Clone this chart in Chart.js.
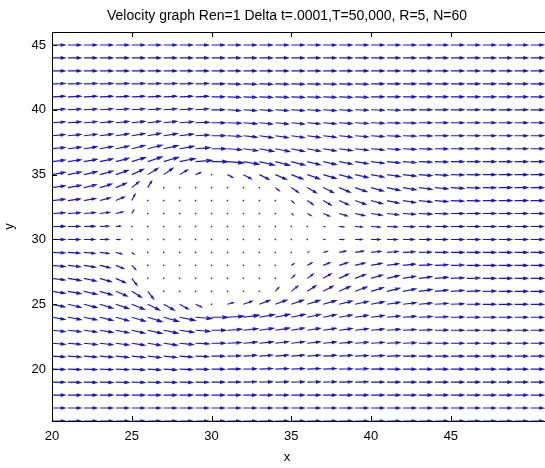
<!DOCTYPE html>
<html>
<head>
<meta charset="utf-8">
<script src="https://cdn.jsdelivr.net/npm/chart.js@4"></script>
<style>
html, body { margin: 0; padding: 0; background: #fff; }
canvas { display: block; }
</style>
</head>
<body>
<canvas id="chart" width="545" height="468"></canvas>
<script>
const titleText = "Velocity graph Ren=1 Delta t=.0001,T=50,000, R=5, N=60"
const xLabel = "x"
const yLabel = "y"

const xTickValues = [20, 25, 30, 35, 40, 45]
const yTickValues = [20, 25, 30, 35, 40, 45]

// grid columns (x) and rows (y, top to bottom)
const xValues = [20,21,22,23,24,25,26,27,28,29,30,31,32,33,34,35,36,37,38,39,40,41,42,43,44,45,46,47,48,49,50]
const yValues = [45,44,43,42,41,40,39,38,37,36,35,34,33,32,31,30,29,28,27,26,25,24,23,22,21,20,19,18,17,16]

// horizontal velocity, one row per y value
const uRows = [
    [1,1,1,1,1,1,1,1,1,1,1,1,1,1,1,1,1,1,1,1,1,1,1,1,1,1,1,1,1,1,1],
    [1,1,1,1,1,1,1,1,1,1,1,1,1,1,1,1,1,1,1,1,1,1,1,1,1,1,1,1,1,1,1],
    [1,1,1,1,1,1,1,1,1,1,1,1,1,1,1,1,1,1,1,1,1,1,1,1,1,1,1,1,1,1,1],
    [1,1,1,1,1,1,1,1,1,1,1,1,1,1,1,1,1,1,1,1,1,1,1,1,1,1,1,1,1,1,1],
    [1,1,1,1,1,1,1,1,1,1,1,1,1,1,1,1,1,1,1,1,1,1,1,1,1,1,1,1,1,1,1],
    [1,1,1,1,1,1,1,1,1,1,1,1,1,1,1,1,1,1,1,1,1,1,1,1,1,1,1,1,1,1,1],
    [1,1,1,1,1,1,1,1,1.05,1.05,1.05,1.05,1.05,1,1,1,1,1,1,1,1,1,1,1,1,1,1,1,1,1,1],
    [1,1,1,1,1,1,1,1.05,1.05,1.05,1.05,1.05,1.05,1.05,1,1,1,1,1,1,1,1,1,1,1,1,1,1,1,1,1],
    [1,1,1,1,1,1,1.1,1.1,1.1,1.1,1.1,1.1,1.1,1.1,1.1,1,1,1,1,1,1,1,1,1,1,1,1,1,1,1,1],
    [1,1,1,1,1,1.05,1.1,1.15,1.2,1.25,1.25,1.25,1.2,1.15,1.1,1.05,1,1,1,1,1,1,1,1,1,1,1,1,1,1,1],
    [1,1,1,1,0.95,0.9,0.8,0.7,0.6,0.4,0,0.4,0.6,0.75,0.85,0.9,0.95,1,1,1,1,1,1,1,1,1,1,1,1,1,1],
    [1,1,0.95,0.9,0.8,0.55,0.3,0,0,0,0,0,0,0,0.3,0.55,0.7,0.8,0.85,0.9,0.95,1,1,1,1,1,1,1,1,1,1],
    [1,0.95,0.9,0.8,0.65,0.25,0,0,0,0,0,0,0,0,0,0.2,0.45,0.6,0.72,0.82,0.88,0.93,0.96,1,1,1,1,1,1,1,1],
    [1,0.95,0.88,0.75,0.55,0.15,0,0,0,0,0,0,0,0,0,0.12,0.3,0.48,0.62,0.74,0.83,0.9,0.95,1,1,1,1,1,1,1,1],
    [1,0.93,0.85,0.68,0.35,0,0,0,0,0,0,0,0,0,0,0,0,0.12,0.35,0.55,0.7,0.8,0.88,0.93,0.97,1,1,1,1,1,1],
    [1,0.92,0.83,0.65,0.3,0,0,0,0,0,0,0,0,0,0,0,0,0.1,0.32,0.52,0.68,0.78,0.86,0.92,0.96,1,1,1,1,1,1],
    [1,0.93,0.85,0.7,0.45,0.18,0,0,0,0,0,0,0,0,0,0,0.1,0.3,0.5,0.65,0.76,0.85,0.91,0.95,0.98,1,1,1,1,1,1],
    [1,0.95,0.88,0.78,0.6,0.3,0,0,0,0,0,0,0,0,0,0.18,0.35,0.52,0.65,0.75,0.83,0.89,0.94,0.97,1,1,1,1,1,1,1],
    [1,1,0.95,0.88,0.75,0.4,0,0,0,0,0,0,0,0,0,0.25,0.45,0.6,0.72,0.8,0.87,0.92,0.96,0.98,1,1,1,1,1,1,1],
    [1,1,1,0.95,0.88,0.75,0.45,0,0,0,0,0,0,0,0.25,0.5,0.65,0.76,0.84,0.9,0.94,0.97,1,1,1,1,1,1,1,1,1],
    [1,1,1,1,1,0.98,0.92,0.82,0.68,0.45,0,0.45,0.68,0.8,0.88,0.93,0.97,1,1,1,1,1,1,1,1,1,1,1,1,1,1],
    [1,1,1,1,1,1.05,1.1,1.15,1.2,1.25,1.25,1.25,1.2,1.15,1.1,1.05,1,1,1,1,1,1,1,1,1,1,1,1,1,1,1],
    [1,1,1,1,1,1,1.1,1.1,1.1,1.1,1.1,1.1,1.1,1.1,1.1,1,1,1,1,1,1,1,1,1,1,1,1,1,1,1,1],
    [1,1,1,1,1,1,1,1.05,1.05,1.05,1.05,1.05,1.05,1.05,1,1,1,1,1,1,1,1,1,1,1,1,1,1,1,1,1],
    [1,1,1,1,1,1,1,1,1,1,1,1,1,1,1,1,1,1,1,1,1,1,1,1,1,1,1,1,1,1,1],
    [1,1,1,1,1,1,1,1,1,1,1,1,1,1,1,1,1,1,1,1,1,1,1,1,1,1,1,1,1,1,1],
    [1,1,1,1,1,1,1,1,1,1,1,1,1,1,1,1,1,1,1,1,1,1,1,1,1,1,1,1,1,1,1],
    [1,1,1,1,1,1,1,1,1,1,1,1,1,1,1,1,1,1,1,1,1,1,1,1,1,1,1,1,1,1,1],
    [1,1,1,1,1,1,1,1,1,1,1,1,1,1,1,1,1,1,1,1,1,1,1,1,1,1,1,1,1,1,1],
    [1,1,1,1,1,1,1,1,1,1,1,1,1,1,1,1,1,1,1,1,1,1,1,1,1,1,1,1,1,1,1]
]

// vertical velocity, one row per y value
const vRows = [
    [0,0,0,0,0,0,0,0,0,0,0,0,0,0,0,0,0,0,0,0,0,0,0,0,0,0,0,0,0,0,0],
    [0,0,0,0,0,0,0,0,0,0,0,0,0,0,0,0,0,0,0,0,0,0,0,0,0,0,0,0,0,0,0],
    [0,0,0,0,0,0,0,0,0,0,0,0,0,0,0,0,0,0,0,0,0,0,0,0,0,0,0,0,0,0,0],
    [0.03,0.03,0.03,0.03,0.03,0.03,0.03,0.03,0.03,0.03,0,-0.03,-0.03,-0.03,-0.03,-0.03,-0.03,-0.03,-0.03,-0.03,0,0,0,0,0,0,0,0,0,0,0],
    [0.05,0.05,0.05,0.05,0.05,0.05,0.05,0.05,0.05,0.05,0,-0.05,-0.05,-0.05,-0.05,-0.05,-0.05,-0.05,-0.05,-0.05,0,0,0,0,0,0,0,0,0,0,0],
    [0.06,0.06,0.06,0.08,0.08,0.08,0.08,0.08,0.08,0.08,0,-0.08,-0.08,-0.08,-0.08,-0.08,-0.08,-0.08,-0.08,-0.04,-0.04,-0.04,0,0,0,0,0,0,0,0,0],
    [0.08,0.09,0.1,0.11,0.12,0.13,0.14,0.13,0.1,0.05,0,-0.05,-0.1,-0.12,-0.12,-0.12,-0.11,-0.1,-0.08,-0.07,-0.05,-0.04,-0.03,0,0,0,0,0,0,0,0],
    [0.1,0.12,0.14,0.16,0.18,0.2,0.22,0.2,0.15,0.07,0,-0.07,-0.14,-0.18,-0.18,-0.17,-0.16,-0.14,-0.12,-0.1,-0.08,-0.06,-0.04,-0.02,0,0,0,0,0,0,0],
    [0.12,0.15,0.18,0.21,0.25,0.3,0.33,0.3,0.22,0.1,0,-0.1,-0.2,-0.26,-0.27,-0.26,-0.24,-0.21,-0.18,-0.15,-0.12,-0.09,-0.06,-0.04,-0.02,0,0,0,0,0,0],
    [0.15,0.18,0.22,0.27,0.32,0.4,0.45,0.42,0.3,0.12,0,-0.12,-0.25,-0.32,-0.34,-0.33,-0.3,-0.27,-0.23,-0.19,-0.15,-0.11,-0.08,-0.05,-0.03,0,0,0,0,0,0],
    [0.22,0.25,0.29,0.34,0.4,0.5,0.6,0.6,0.45,0.2,0,-0.25,-0.4,-0.45,-0.45,-0.43,-0.4,-0.36,-0.32,-0.28,-0.23,-0.18,-0.14,-0.1,-0.07,-0.04,-0.02,0,0,0,0],
    [0.18,0.22,0.27,0.33,0.42,0.55,0.6,0,0,0,0,0,0,0,-0.3,-0.45,-0.5,-0.48,-0.44,-0.39,-0.33,-0.27,-0.21,-0.16,-0.11,-0.07,-0.04,-0.02,0,0,0],
    [0.13,0.16,0.2,0.26,0.35,0.6,0,0,0,0,0,0,0,0,0,-0.2,-0.38,-0.42,-0.4,-0.36,-0.3,-0.25,-0.19,-0.14,-0.1,-0.06,-0.03,0,0,0,0],
    [0.07,0.08,0.1,0.12,0.16,0.3,0,0,0,0,0,0,0,0,0,-0.1,-0.2,-0.24,-0.23,-0.2,-0.16,-0.12,-0.08,-0.05,-0.03,0,0,0,0,0,0],
    [0.02,0.02,0.03,0.03,0.04,0,0,0,0,0,0,0,0,0,0,0,0,-0.02,-0.04,-0.05,-0.05,-0.04,-0.03,-0.02,0,0,0,0,0,0,0],
    [0,0,0,0,0,0,0,0,0,0,0,0,0,0,0,0,0,0,0,0,0,0,0,0,0,0,0,0,0,0,0],
    [-0.05,-0.06,-0.08,-0.1,-0.14,-0.15,0,0,0,0,0,0,0,0,0,0,0.05,0.1,0.13,0.13,0.11,0.09,0.06,0.04,0.02,0,0,0,0,0,0],
    [-0.11,-0.13,-0.17,-0.22,-0.3,-0.38,0,0,0,0,0,0,0,0,0,0.15,0.25,0.28,0.27,0.24,0.2,0.16,0.12,0.08,0.05,0.03,0,0,0,0,0],
    [-0.16,-0.2,-0.25,-0.32,-0.42,-0.65,0,0,0,0,0,0,0,0,0,0.28,0.4,0.43,0.41,0.37,0.32,0.26,0.2,0.15,0.1,0.06,0.03,0,0,0,0],
    [-0.18,-0.22,-0.28,-0.35,-0.45,-0.58,-0.7,0,0,0,0,0,0,0,0.35,0.5,0.52,0.5,0.46,0.41,0.35,0.29,0.23,0.17,0.12,0.08,0.05,0.03,0,0,0],
    [-0.25,-0.28,-0.32,-0.37,-0.42,-0.48,-0.55,-0.55,-0.45,-0.25,0,0.15,0.3,0.38,0.4,0.4,0.38,0.35,0.31,0.27,0.23,0.19,0.15,0.11,0.08,0.05,0.03,0,0,0,0],
    [-0.2,-0.22,-0.25,-0.3,-0.34,-0.38,-0.42,-0.4,-0.3,-0.12,0,0.1,0.2,0.26,0.28,0.28,0.27,0.25,0.22,0.19,0.16,0.12,0.09,0.06,0.04,0.02,0,0,0,0,0],
    [-0.12,-0.14,-0.17,-0.2,-0.24,-0.28,-0.3,-0.28,-0.2,-0.1,0,0.08,0.15,0.19,0.2,0.2,0.19,0.18,0.16,0.14,0.11,0.09,0.06,0.04,0.02,0,0,0,0,0,0],
    [-0.1,-0.11,-0.13,-0.15,-0.17,-0.19,-0.2,-0.19,-0.14,-0.07,0,0.05,0.1,0.13,0.14,0.14,0.13,0.12,0.11,0.09,0.07,0.05,0.04,0.02,0,0,0,0,0,0,0],
    [-0.07,-0.08,-0.09,-0.1,-0.11,-0.12,-0.13,-0.12,-0.09,-0.05,0,0.04,0.07,0.09,0.1,0.1,0.09,0.08,0.07,0.06,0.05,0.03,0.02,0,0,0,0,0,0,0,0],
    [-0.04,-0.05,-0.05,-0.06,-0.06,-0.07,-0.07,-0.07,-0.05,-0.03,0,0.02,0.04,0.05,0.06,0.06,0.05,0.05,0.04,0.03,0.02,0,0,0,0,0,0,0,0,0,0],
    [-0.02,-0.03,-0.03,-0.03,-0.04,-0.04,-0.04,-0.04,-0.03,-0.02,0,0.01,0.02,0.03,0.03,0.03,0.03,0.03,0.02,0.02,0.01,0,0,0,0,0,0,0,0,0,0],
    [0,0,0,0,0,0,0,0,0,0,0,0,0,0,0,0,0,0,0,0,0,0,0,0,0,0,0,0,0,0,0],
    [0,0,0,0,0,0,0,0,0,0,0,0,0,0,0,0,0,0,0,0,0,0,0,0,0,0,0,0,0,0,0],
    [0,0,0,0,0,0,0,0,0,0,0,0,0,0,0,0,0,0,0,0,0,0,0,0,0,0,0,0,0,0,0]
]

const arrowColor = "rgb(22, 22, 200)"
const dotColor = "#333344"
const arrowScale = 0.8
const headLength = 0.33
const headWidth = 0.3
const tickLength = 5
// matlab centres title and x label on the (cropped) axes box
const textCenterX = 287

let points = []
yValues.forEach((yv, j) => {
    xValues.forEach((xv, i) => {
        points.push({x: xv, y: yv, u: uRows[j][i], v: vRows[j][i]})
    })
})

const quiverPlugin = {
    id: "quiver",
    afterDatasetsDraw(chart) {
        const {ctx, chartArea: area, scales} = chart
        const meta = chart.getDatasetMeta(0)
        const raw = chart.data.datasets[0].data

        ctx.save()
        ctx.beginPath()
        ctx.rect(area.left, area.top, area.right - area.left, area.bottom - area.top)
        ctx.clip()
        ctx.strokeStyle = arrowColor
        ctx.lineWidth = 1.15

        meta.data.forEach((pt, i) => {
            let d = raw[i]
            if(d.u === 0 && d.v === 0) {
                ctx.fillStyle = dotColor
                ctx.fillRect(pt.x - 0.75, pt.y - 0.75, 1.5, 1.5)
                return
            }
            let tx = scales.x.getPixelForValue(d.x + arrowScale * d.u)
            let ty = scales.y.getPixelForValue(d.y + arrowScale * d.v)
            let dx = tx - pt.x
            let dy = ty - pt.y

            ctx.beginPath()
            ctx.moveTo(pt.x, pt.y)
            ctx.lineTo(tx, ty)
            ctx.moveTo(tx - headLength * (dx + headWidth * dy), ty - headLength * (dy - headWidth * dx))
            ctx.lineTo(tx, ty)
            ctx.lineTo(tx - headLength * (dx - headWidth * dy), ty - headLength * (dy + headWidth * dx))
            ctx.stroke()
        })
        ctx.restore()
    }
}

// top border, inward tick marks, title and x label
const framePlugin = {
    id: "frame",
    afterDraw(chart) {
        const {ctx, chartArea: a, scales: {x, y}} = chart
        ctx.save()
        ctx.strokeStyle = "#000"
        ctx.lineWidth = 1
        ctx.beginPath()
        ctx.moveTo(a.left, Math.round(a.top) + 0.5)
        ctx.lineTo(a.right, Math.round(a.top) + 0.5)
        for(let t of x.ticks) {
            let px = Math.round(x.getPixelForValue(t.value)) + 0.5
            ctx.moveTo(px, a.bottom)
            ctx.lineTo(px, a.bottom - tickLength)
            ctx.moveTo(px, a.top)
            ctx.lineTo(px, a.top + tickLength)
        }
        for(let t of y.ticks) {
            let py = Math.round(y.getPixelForValue(t.value)) + 0.5
            ctx.moveTo(a.left, py)
            ctx.lineTo(a.left + tickLength, py)
        }
        ctx.stroke()

        ctx.fillStyle = "#000"
        ctx.textAlign = "center"
        ctx.textBaseline = "middle"
        ctx.font = "14px 'Liberation Sans', Arial, sans-serif"
        ctx.fillText(titleText, textCenterX, 16)
        ctx.font = "13px 'Liberation Sans', Arial, sans-serif"
        ctx.fillText(xLabel, textCenterX, 457)
        ctx.restore()
    }
}

window.onload = () => {
    Chart.defaults.font.family = "'Liberation Sans', Arial, sans-serif"
    Chart.defaults.font.size = 13
    Chart.defaults.color = "#000"

    let ctx = document.querySelector("#chart").getContext("2d")

    new Chart(ctx, {
        type: "scatter",
        data: {
            datasets: [{
                data: points,
                pointRadius: 0,
                pointHoverRadius: 0
            }]
        },
        options: {
            responsive: false,
            animation: false,
            events: [],
            layout: {padding: {left: 0, right: 0, top: 32, bottom: 0}},
            plugins: {
                legend: {display: false},
                tooltip: {enabled: false},
                title: {display: false}
            },
            scales: {
                x: {
                    type: "linear",
                    min: 20,
                    max: 50.9,
                    grid: {display: false, drawTicks: false},
                    border: {display: true, color: "#000", width: 1},
                    ticks: {padding: 8, includeBounds: false},
                    afterBuildTicks: scale => {
                        scale.ticks = xTickValues.map(v => ({value: v}))
                    },
                    afterFit: scale => { scale.height = 47 }
                },
                y: {
                    type: "linear",
                    min: 16,
                    max: 46,
                    grid: {display: false, drawTicks: false},
                    border: {display: true, color: "#000", width: 1},
                    ticks: {padding: 6, includeBounds: false},
                    afterBuildTicks: scale => {
                        scale.ticks = yTickValues.map(v => ({value: v}))
                    },
                    afterFit: scale => { scale.width = 52 },
                    title: {display: true, text: yLabel, padding: {top: 2, bottom: 0}}
                }
            }
        },
        plugins: [quiverPlugin, framePlugin]
    })
}
</script>
</body>
</html>
